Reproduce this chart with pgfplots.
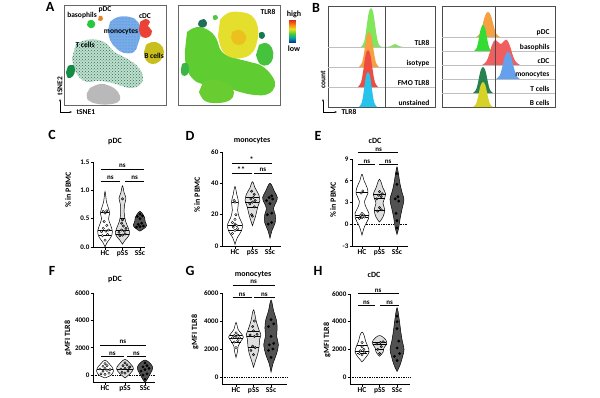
\documentclass[border=0pt]{standalone}
\usepackage{pgfplots}
\pgfplotsset{compat=1.18}
\usepackage{fontspec}
\setmainfont{Carlito}
\usetikzlibrary{arrows.meta,patterns}
\newcommand\fs[1]{\fontsize{#1}{#1}\selectfont\bfseries}
\definecolor{cTcell}{RGB}{195,222,207}
\definecolor{cTdot}{RGB}{30,120,85}
\definecolor{cMono}{RGB}{120,172,232}
\definecolor{cMdot}{RGB}{60,125,210}
\definecolor{cCDC}{RGB}{235,65,55}
\definecolor{cB}{RGB}{200,190,30}
\definecolor{cBaso}{RGB}{40,200,60}
\definecolor{cPDC}{RGB}{230,130,40}
\definecolor{cDG}{RGB}{20,140,70}
\definecolor{cGray}{RGB}{185,185,185}
\definecolor{hGreen}{RGB}{130,230,90}
\definecolor{hOrange}{RGB}{245,160,65}
\definecolor{hRed}{RGB}{240,75,65}
\definecolor{hCyan}{RGB}{40,195,235}
\definecolor{hBlue}{RGB}{100,160,235}
\definecolor{hDG}{RGB}{40,130,80}
\definecolor{hYel}{RGB}{215,210,40}
\definecolor{hSalmon}{RGB}{240,95,95}
\definecolor{hBGreen}{RGB}{50,220,50}
\pgfplotsset{
 vio/.style={scale only axis, anchor=south west, clip=false,
   axis lines=left, axis line style={-, line width=0.7pt, black},
   tick align=outside, major tick length=2.5pt, tick style={black, line width=0.7pt},
   xtick={1,2,3}, xticklabels={HC,pSS,SSc},
   xticklabel style={font=\fs{7.5}, inner sep=1pt},
   yticklabel style={font=\fs{7}, inner sep=1pt},
   /pgf/number format/assume math mode=true,
   /pgf/number format/1000 sep={},
   minor tick num=0},
 vl/.style={draw=black, line width=0.5pt, smooth, tension=0.6},
 hcv/.style={vl, fill=white},
 psv/.style={vl, fill=black!13},
 ssv/.style={vl, fill=black!68},
 hcd/.style={only marks, mark=*, mark size=1.2pt, mark options={fill=white, draw=black, line width=0.4pt}},
 psd/.style={only marks, mark=*, mark size=1.2pt, mark options={fill=black!45, draw=black, line width=0.4pt}},
 ssd/.style={only marks, mark=*, mark size=1.2pt, mark options={fill=black, draw=black}},
 med/.style={black, line width=0.5pt},
 br/.style={black, line width=0.6pt},
 zl/.style={black, densely dotted, line width=0.7pt},
 tsne/.style={scale only axis, anchor=south west, width=102pt, height=100pt,
   ymin=5, ymax=105, y dir=reverse, ticks=none, axis line style={black!60, line width=0.6pt}},
 hist/.style={scale only axis, anchor=south west, height=101pt,
   ymin=6, ymax=107, y dir=reverse, ticks=none, axis line style={black!70, line width=0.6pt}},
 blob/.style={draw=none, smooth, tension=0.7},
 hf/.style={draw=none, smooth, tension=0.6},
 lane/.style={black!25, line width=0.4pt},
}
\begin{document}
\begin{tikzpicture}[x=1pt,y=1pt]
\path[use as bounding box] (0,0) rectangle (600,397);

% ---------------- A left tSNE ----------------
\begin{axis}[tsne, at={(64pt,292pt)}, xmin=64, xmax=166]
\addplot[blob, fill=cGray] coordinates {(90,88) (100,84) (110,86) (118,92) (120,100) (112,104) (98,104) (88,100) (87,93)} -- cycle;
\addplot[blob, fill=cTcell] coordinates {(76,44) (86,40) (98,40) (107,44) (113,51) (122,56) (131,61) (139,68) (143,77) (140,85) (130,88) (119,85) (108,82) (97,81) (87,82) (79,77) (74,68) (72,58)} -- cycle;
\addplot[blob, pattern=crosshatch dots, pattern color=cTdot] coordinates {(76,44) (86,40) (98,40) (107,44) (113,51) (122,56) (131,61) (139,68) (143,77) (140,85) (130,88) (119,85) (108,82) (97,81) (87,82) (79,77) (74,68) (72,58)} -- cycle;
\addplot[blob, fill=cMono] coordinates {(110,22) (118,17) (130,17) (138,22) (141,32) (138,44) (134,52) (124,53) (116,48) (110,40) (108,30)} -- cycle;
\addplot[blob, pattern=dots, pattern color=cMdot] coordinates {(110,22) (118,17) (130,17) (138,22) (141,32) (138,44) (134,52) (124,53) (116,48) (110,40) (108,30)} -- cycle;
\addplot[blob, fill=cCDC] coordinates {(140,22) (146,19) (150,22) (148,26) (152,31) (149,37) (142,37) (139,30)} -- cycle;
\addplot[blob, fill=cB] coordinates {(146,45) (152,42) (160,44) (164,52) (160,61) (152,64) (146,60) (144,52)} -- cycle;
\addplot[blob, fill=cBaso] coordinates {(88,21) (92,20) (95,23) (94,27) (90,28) (87,25)} -- cycle;
\addplot[blob, fill=cPDC] coordinates {(99,16) (102,16) (103,19) (101,21) (98,20)} -- cycle;
\addplot[blob, fill=cDG] coordinates {(68,66) (73,65) (75,70) (73,76) (68,78) (66,72)} -- cycle;
\node[font=\fs{7.5}] at (axis cs:82,15) {basophils};
\node[font=\fs{7.5}] at (axis cs:105,10) {pDC};
\node[font=\fs{7.5}] at (axis cs:145,16) {cDC};
\node[font=\fs{7.5}] at (axis cs:121,32) {monocytes};
\node[font=\fs{7.5}] at (axis cs:85,45) {T cells};
\node[font=\fs{7.5}] at (axis cs:154,56) {B cells};
\end{axis}

% ---------------- A right tSNE ----------------
\begin{axis}[tsne, at={(178pt,292pt)}, xmin=178, xmax=280]
\addplot[blob, fill={rgb,255:red,95;green,205;blue,50}] coordinates {(187,32) (197,27) (208,30) (216,38) (222,52) (235,58) (250,62) (262,66) (272,76) (275,86) (268,94) (255,95) (240,92) (228,88) (215,85) (202,84) (192,78) (186,66) (185,50)} -- cycle;
\addplot[blob, fill={rgb,255:red,105;green,205;blue,50}] coordinates {(203,82) (215,80) (228,84) (234,92) (230,100) (218,103) (205,101) (199,92)} -- cycle;
\addplot[blob, fill={rgb,255:red,228;green,222;blue,45}] coordinates {(220,20) (228,13) (240,12) (252,16) (258,28) (257,42) (252,53) (242,58) (230,57) (222,50) (218,36)} -- cycle;
\addplot[blob, fill=orange, fill opacity=0.3] coordinates {(232,32) (240,30) (246,36) (243,44) (235,44) (231,38)} -- cycle;
\addplot[blob, fill={rgb,255:red,70;green,195;blue,60}] coordinates {(259,45) (266,43) (272,48) (273,58) (268,65) (260,64) (256,55)} -- cycle;
\addplot[blob, fill={rgb,255:red,30;green,110;blue,90}] coordinates {(199,21) (204,19) (207,23) (205,27) (200,27) (198,24)} -- cycle;
\addplot[blob, fill={rgb,255:red,80;green,200;blue,70}] coordinates {(213,16) (216,15) (218,18) (215,20) (213,19)} -- cycle;
\addplot[blob, fill={rgb,255:red,60;green,180;blue,70}] coordinates {(182,64) (187,63) (189,69) (187,75) (182,75) (181,69)} -- cycle;
\addplot[blob, fill={rgb,255:red,20;green,120;blue,80}] coordinates {(259,33) (263,32) (265,36) (262,39) (259,37)} -- cycle;
\node[font=\fs{7.5}] at (axis cs:268,12) {TLR8};
\end{axis}

% colour bar
\begin{axis}[at={(289pt,354pt)}, anchor=south west, scale only axis, width=6pt, height=23pt, hide axis,
  xmin=0, xmax=1, ymin=0, ymax=5, zmin=-1, zmax=1, view={0}{90},
  colormap={tlrmap}{rgb255=(20,30,140) rgb255=(0,160,170) rgb255=(70,200,60) rgb255=(230,225,30) rgb255=(245,140,20) rgb255=(225,40,30)}]
\addplot3[surf, shader=interp, mesh/rows=6, mesh/cols=2, point meta=y] coordinates {(0,0,0) (1,0,0) (0,1,0) (1,1,0) (0,2,0) (1,2,0) (0,3,0) (1,3,0) (0,4,0) (1,4,0) (0,5,0) (1,5,0)};
\end{axis}
\node[font=\fs{8}] at (294,383) {high};
\node[font=\fs{8}] at (294,348) {low};

% tSNE axes arrows
\draw[line width=0.6pt, -{Stealth[length=2.5pt]}] (60,285) -- (60,298);
\draw[line width=0.6pt, -{Stealth[length=2.5pt]}] (60,285) -- (72,285);
\node[font=\fs{7.5}, rotate=90] at (60,311) {tSNE2};
\node[font=\fs{7.5}, anchor=west] at (73,285) {tSNE1};

% ---------------- B left histograms ----------------
\begin{axis}[hist, at={(328pt,290pt)}, width=107pt, xmin=328, xmax=435]
\addplot[lane] coordinates {(328,47) (435,47)};
\addplot[lane] coordinates {(328,67) (435,67)};
\addplot[lane] coordinates {(328,87) (435,87)};
\addplot[hf, fill=hGreen] coordinates {(361,47) (364,42.3) (366,31.4) (368.5,14) (371,8) (373.5,14) (376,31.4) (378,42.3) (381,46.6) (387,47) (391,46) (395,44) (399,46) (403,47)} -- cycle;
\addplot[hf, fill=hOrange] coordinates {(359,67) (362,62.8) (364,53) (366.5,37.2) (369,32) (371.5,37.2) (374,53) (376,62.8) (379,67)} -- cycle;
\addplot[hf, fill=hRed] coordinates {(358,87) (361,82.6) (363,72.2) (365.5,55.6) (368,50) (370.5,55.6) (373,72.2) (375,82.6) (378,87)} -- cycle;
\addplot[hf, fill=hCyan] coordinates {(359,107) (361.7,102.8) (363.5,93) (365.75,77.2) (368,72) (370.25,77.2) (372.5,93) (374.3,102.8) (377,107)} -- cycle;
\addplot[black!70, line width=0.5pt] coordinates {(385,6) (385,107)};
\node[font=\fs{7.5}, anchor=east] at (axis cs:433,43) {TLR8};
\node[font=\fs{7.5}, anchor=east] at (axis cs:433,63) {isotype};
\node[font=\fs{7.5}, anchor=east] at (axis cs:433,83) {FMO TLR8};
\node[font=\fs{7.5}, anchor=east] at (axis cs:433,103) {unstained};
\end{axis}

% ---------------- B right histograms ----------------
\begin{axis}[hist, at={(442pt,290pt)}, width=113pt, xmin=442, xmax=555]
\addplot[lane] coordinates {(442,37) (555,37)};
\addplot[lane] coordinates {(442,51) (555,51)};
\addplot[lane] coordinates {(442,65) (555,65)};
\addplot[lane] coordinates {(442,79) (555,79)};
\addplot[lane] coordinates {(442,93) (555,93)};
\addplot[hf, fill=hOrange] coordinates {(476,37) (479.6,34) (482,27) (485,15.75) (488,12) (491,15.75) (494,27) (496.4,34) (500,37)} -- cycle;
\addplot[hf, fill=hBGreen] coordinates {(474,51) (476.7,47.9) (478.5,40.6) (480.75,28.9) (483,25) (485.25,28.9) (487.5,40.6) (489.3,47.9) (492,51)} -- cycle;
\addplot[hf, fill=hSalmon] coordinates {(482,65) (486,62) (489,55) (492,45) (495,40) (498,42) (501,44) (504,41) (507,40) (510,46) (513,56) (516,62) (520,65)} -- cycle;
\addplot[hf, fill=hBlue] coordinates {(496,79) (499.6,75.8) (502,68.2) (505,56) (508,52) (511,56) (514,68.2) (516.4,75.8) (520,79)} -- cycle;
\addplot[hf, fill=hDG] coordinates {(473,93) (476,89.9) (478,82.6) (480.5,70.9) (483,67) (485.5,70.9) (488,82.6) (490,89.9) (493,93)} -- cycle;
\addplot[hf, fill=hYel] coordinates {(473,107) (476,104) (478,97) (480.5,85.75) (483,82) (485.5,85.75) (488,97) (490,104) (493,107)} -- cycle;
\addplot[black!70, line width=0.5pt] coordinates {(495,6) (495,107)};
\node[font=\fs{7.5}, anchor=east] at (axis cs:553,33) {pDC};
\node[font=\fs{7.5}, anchor=east] at (axis cs:553,47) {basophils};
\node[font=\fs{7.5}, anchor=east] at (axis cs:553,61) {cDC};
\node[font=\fs{7.5}, anchor=east] at (axis cs:553,75) {monocytes};
\node[font=\fs{7.5}, anchor=east] at (axis cs:553,89) {T cells};
\node[font=\fs{7.5}, anchor=east] at (axis cs:553,103) {B cells};
\end{axis}
\draw[line width=0.6pt, -{Stealth[length=2.5pt]}] (323,285) -- (323,298);
\draw[line width=0.6pt, -{Stealth[length=2.5pt]}] (323,285) -- (337,285);
\node[font=\fs{7.5}, rotate=90] at (323,317) {count};
\node[font=\fs{7.5}, anchor=west] at (338,285) {TLR8};

% ---------------- C ----------------
\begin{axis}[vio, at={(93pt,150pt)}, width=52pt, height=85pt, xmin=0.31, xmax=3.29, ymin=0, ymax=1.5,
  ytick={0,0.5,1,1.5}, yticklabel style={/pgf/number format/fixed, /pgf/number format/fixed zerofill, /pgf/number format/precision=1}]
\addplot[hcv] coordinates {(1,0) (1.12,0.08) (1.35,0.18) (1.42,0.28) (1.30,0.4) (1.20,0.5) (1.27,0.6) (1.20,0.68) (1.08,0.8) (1,0.98) (0.92,0.8) (0.80,0.68) (0.73,0.6) (0.80,0.5) (0.70,0.4) (0.58,0.28) (0.65,0.18) (0.88,0.08) (1,0)} -- cycle;
\addplot[psv] coordinates {(2,0.05) (2.15,0.12) (2.40,0.22) (2.35,0.32) (2.18,0.45) (2.10,0.6) (2.12,0.75) (2.20,0.86) (2.10,0.95) (2,1.08) (1.90,0.95) (1.80,0.86) (1.88,0.75) (1.90,0.6) (1.82,0.45) (1.65,0.32) (1.60,0.22) (1.85,0.12) (2,0.05)} -- cycle;
\addplot[ssv] coordinates {(3,0.28) (3.25,0.33) (3.38,0.38) (3.30,0.45) (3.27,0.52) (3.18,0.57) (3,0.63) (2.82,0.57) (2.73,0.52) (2.70,0.45) (2.62,0.38) (2.75,0.33) (3,0.28)} -- cycle;
\addplot[med] coordinates {(0.61,0.3) (1.39,0.3)};
\addplot[med] coordinates {(0.64,0.2) (1.36,0.2)};
\addplot[med] coordinates {(0.75,0.62) (1.25,0.62)};
\addplot[med] coordinates {(1.63,0.3) (2.37,0.3)};
\addplot[med] coordinates {(1.6,0.22) (2.4,0.22)};
\addplot[med] coordinates {(1.84,0.5) (2.16,0.5)};
\addplot[hcd] coordinates {(1.0,0.12) (0.85,0.2) (1.15,0.22) (0.8,0.27) (1.05,0.28) (1.2,0.3) (0.9,0.33) (1.1,0.38) (0.95,0.45) (1.0,0.6) (0.9,0.63) (1.1,0.64)};
\addplot[psd] coordinates {(1.85,0.2) (2.0,0.21) (2.15,0.23) (1.8,0.26) (2.1,0.28) (1.95,0.3) (2.2,0.33) (2.05,0.37) (1.95,0.42) (2.0,0.48) (2.0,0.85)};
\addplot[ssd] coordinates {(2.8,0.35) (3.0,0.36) (3.2,0.37) (2.9,0.4) (3.1,0.42) (3.0,0.5) (2.85,0.54) (3.15,0.55) (3.0,0.58)};
\addplot[br] coordinates {(0.75,1.376) (3.25,1.376)};
\addplot[br] coordinates {(0.75,1.165) (1.85,1.165)};
\addplot[br] coordinates {(2.15,1.165) (3.25,1.165)};
\node[font=\fs{7}, above, inner sep=0.8pt] at (axis cs:2,1.376) {ns};
\node[font=\fs{7}, above, inner sep=0.8pt] at (axis cs:1.3,1.165) {ns};
\node[font=\fs{7}, above, inner sep=0.8pt] at (axis cs:2.7,1.165) {ns};
\end{axis}
\node[font=\fs{8}] at (115,255) {pDC};
\node[font=\fs{8}, rotate=90] at (68,207) {\% in PBMC};

% ---------------- D ----------------
\begin{axis}[vio, at={(222pt,151pt)}, width=59pt, height=94pt, xmin=0.257, xmax=3.63, ymin=0, ymax=60, ytick={0,20,40,60}]
\addplot[hcv] coordinates {(1,1) (1.12,5) (1.38,10) (1.42,14) (1.25,18) (1.15,23) (1.20,28) (1.10,33) (1,38) (0.90,33) (0.80,28) (0.85,23) (0.75,18) (0.58,14) (0.62,10) (0.88,5) (1,1)} -- cycle;
\addplot[psv] coordinates {(2,13) (2.12,17) (2.22,21) (2.30,25) (2.42,29) (2.35,33) (2.15,37) (2,41) (1.85,37) (1.65,33) (1.58,29) (1.70,25) (1.78,21) (1.88,17) (2,13)} -- cycle;
\addplot[ssv] coordinates {(3,5) (3.12,10) (3.30,15) (3.30,20) (3.20,24) (3.35,28) (3.42,31) (3.25,35) (3,40) (2.75,35) (2.58,31) (2.65,28) (2.80,24) (2.70,20) (2.70,15) (2.88,10) (3,5)} -- cycle;
\addplot[med] coordinates {(0.58,13) (1.42,13)};
\addplot[med] coordinates {(0.62,10) (1.38,10)};
\addplot[med] coordinates {(0.8,28) (1.2,28)};
\addplot[med] coordinates {(1.6,28) (2.4,28)};
\addplot[med] coordinates {(1.7,25) (2.3,25)};
\addplot[med] coordinates {(1.62,31) (2.38,31)};
\addplot[hcd] coordinates {(0.85,8) (1.0,10) (1.15,11) (0.9,12) (1.1,13) (1.0,14) (0.85,15) (1.0,17) (1.05,20) (1.0,28) (0.95,29)};
\addplot[psd] coordinates {(2.0,19) (1.95,20) (2.1,25) (1.85,27) (2.0,28) (2.15,29) (1.9,30) (2.05,31) (2.1,33) (1.95,35)};
\addplot[ssd] coordinates {(2.9,14) (3.1,15) (2.85,20) (3.1,21) (3.0,27) (2.8,29) (3.15,30) (2.95,31) (3.1,32)};
\addplot[br] coordinates {(0.8,53) (3.1,53)};
\addplot[br] coordinates {(0.8,46.6) (1.95,46.6)};
\addplot[br] coordinates {(2.1,46.6) (3.1,46.6)};
\node[font=\fs{8}, above, inner sep=0.3pt] at (axis cs:1.95,53) {*};
\node[font=\fs{8}, above, inner sep=0.3pt] at (axis cs:1.35,46.6) {**};
\node[font=\fs{7}, above, inner sep=0.8pt] at (axis cs:2.6,46.6) {ns};
\end{axis}
\node[font=\fs{8}] at (252,256) {monocytes};
\node[font=\fs{8}, rotate=90] at (197,202) {\% in PBMC};

% ---------------- E ----------------
\begin{axis}[vio, at={(352pt,151pt)}, width=56pt, height=87pt, xmin=0.43, xmax=3.63, ymin=-3, ymax=9, ytick={-3,0,3,6,9}]
\addplot[zl] coordinates {(0.43,0) (3.63,0)};
\addplot[hcv] coordinates {(1,-1.5) (1.15,-0.3) (1.38,0.8) (1.40,1.5) (1.22,2.4) (1.15,3.2) (1.33,4.2) (1.30,5.0) (1.12,6) (1,6.9) (0.88,6) (0.70,5.0) (0.67,4.2) (0.85,3.2) (0.78,2.4) (0.60,1.5) (0.62,0.8) (0.85,-0.3) (1,-1.5)} -- cycle;
\addplot[psv] coordinates {(2,0.3) (2.20,1) (2.30,2) (2.20,2.9) (2.30,3.6) (2.35,4.2) (2.20,5) (2,6.2) (1.80,5) (1.65,4.2) (1.70,3.6) (1.80,2.9) (1.70,2) (1.80,1) (2,0.3)} -- cycle;
\addplot[ssv] coordinates {(3,-1.4) (3.10,-0.5) (3.18,0.8) (3.30,2.2) (3.40,3.4) (3.30,4.3) (3.18,5.5) (3.08,7) (3,7.9) (2.92,7) (2.82,5.5) (2.70,4.3) (2.60,3.4) (2.70,2.2) (2.82,0.8) (2.90,-0.5) (3,-1.4)} -- cycle;
\addplot[med] coordinates {(0.61,1.3) (1.39,1.3)};
\addplot[med] coordinates {(0.64,0.9) (1.36,0.9)};
\addplot[med] coordinates {(0.68,4.4) (1.32,4.4)};
\addplot[med] coordinates {(1.7,2) (2.3,2)};
\addplot[med] coordinates {(1.7,3.6) (2.3,3.6)};
\addplot[med] coordinates {(1.65,4.2) (2.35,4.2)};
\addplot[hcd] coordinates {(0.85,0.8) (1.0,0.9) (1.15,1.0) (0.9,1.2) (1.1,1.3) (1.0,1.5) (0.95,4.3) (1.05,4.6)};
\addplot[psd] coordinates {(1.9,1.8) (2.1,2.0) (2.0,2.3) (1.85,3.5) (2.1,3.8) (1.95,4.0) (2.15,4.2) (2.0,4.5)};
\addplot[ssd] coordinates {(3.0,-0.5) (3.0,0.5) (2.95,1.5) (3.1,3.2) (2.9,3.5) (3.05,3.8) (3.0,5.5) (3.0,7.0)};
\addplot[br] coordinates {(0.8,9.95) (3.05,9.95)};
\addplot[br] coordinates {(0.8,8.3) (1.75,8.3)};
\addplot[br] coordinates {(1.95,8.3) (3.05,8.3)};
\node[font=\fs{7}, above, inner sep=0.8pt] at (axis cs:1.95,9.95) {ns};
\node[font=\fs{7}, above, inner sep=0.8pt] at (axis cs:1.28,8.3) {ns};
\node[font=\fs{7}, above, inner sep=0.8pt] at (axis cs:2.5,8.3) {ns};
\end{axis}
\node[font=\fs{8}] at (375,256) {cDC};
\node[font=\fs{8}, rotate=90] at (333,197) {\% in PBMC};

% ---------------- F ----------------
\begin{axis}[vio, at={(93pt,15pt)}, width=62pt, height=89pt, xmin=0.4, xmax=3.5, ymin=-500, ymax=6000, ytick={0,2000,4000,6000}]
\addplot[zl] coordinates {(0.4,0) (3.5,0)};
\addplot[hcv] coordinates {(1,-200) (1.30,0) (1.42,300) (1.35,600) (1.20,850) (1,1100) (0.80,850) (0.65,600) (0.58,300) (0.70,0) (1,-200)} -- cycle;
\addplot[psv] coordinates {(2,-200) (2.25,100) (2.42,450) (2.35,700) (2.20,950) (2,1150) (1.80,950) (1.65,700) (1.58,450) (1.75,100) (2,-200)} -- cycle;
\addplot[ssv] coordinates {(3,-550) (3.15,-200) (3.30,200) (3.38,500) (3.30,800) (3,1100) (2.70,800) (2.62,500) (2.70,200) (2.85,-200) (3,-550)} -- cycle;
\addplot[med] coordinates {(0.59,400) (1.41,400)};
\addplot[med] coordinates {(1.58,450) (2.42,450)};
\addplot[hcd] coordinates {(0.8,100) (1.0,50) (1.2,150) (0.9,300) (1.1,350) (1.25,400) (0.75,450) (1.0,500) (0.9,650) (1.1,700) (1.0,850)};
\addplot[psd] coordinates {(1.85,200) (2.0,150) (2.15,300) (1.8,450) (2.0,500) (2.2,550) (1.9,700) (2.1,750) (2.0,900) (2.25,600)};
\addplot[ssd] coordinates {(3.0,-300) (2.9,0) (3.1,100) (2.8,300) (3.0,400) (3.2,500) (2.9,600) (3.1,700) (3.0,900)};
\addplot[br] coordinates {(0.75,2200) (3.05,2200)};
\addplot[br] coordinates {(0.8,1390) (1.95,1390)};
\addplot[br] coordinates {(2.1,1390) (3.05,1390)};
\node[font=\fs{7}, above, inner sep=0.8pt] at (axis cs:1.9,2200) {ns};
\node[font=\fs{7}, above, inner sep=0.8pt] at (axis cs:1.37,1390) {ns};
\node[font=\fs{7}, above, inner sep=0.8pt] at (axis cs:2.57,1390) {ns};
\end{axis}
\node[font=\fs{8}] at (115,117) {pDC};
\node[font=\fs{8}, rotate=90] at (68,59) {gMFI TLR8};

% ---------------- G ----------------
\begin{axis}[vio, at={(222pt,13pt)}, width=65pt, height=91pt, xmin=0.2, xmax=3.91, ymin=-500, ymax=6000, ytick={0,2000,4000,6000}]
\addplot[zl] coordinates {(0.2,0) (3.91,0)};
\addplot[hcv] coordinates {(1,1400) (1.08,1800) (1.12,2200) (1.30,2600) (1.42,2850) (1.30,3100) (1.12,3400) (1,3900) (0.88,3400) (0.70,3100) (0.58,2850) (0.70,2600) (0.88,2200) (0.92,1800) (1,1400)} -- cycle;
\addplot[psv] coordinates {(2,700) (2.12,1200) (2.25,1700) (2.32,2200) (2.35,2700) (2.42,3000) (2.30,3400) (2.15,4000) (2,4800) (1.85,4000) (1.70,3400) (1.58,3000) (1.65,2700) (1.68,2200) (1.75,1700) (1.88,1200) (2,700)} -- cycle;
\addplot[ssv] coordinates {(3,350) (3.12,1000) (3.30,1600) (3.42,2300) (3.32,2900) (3.35,3500) (3.30,4100) (3.15,4700) (3,5500) (2.85,4700) (2.70,4100) (2.65,3500) (2.68,2900) (2.58,2300) (2.70,1600) (2.88,1000) (3,350)} -- cycle;
\addplot[med] coordinates {(0.6,2800) (1.4,2800)};
\addplot[med] coordinates {(0.72,2500) (1.28,2500)};
\addplot[med] coordinates {(0.68,3000) (1.32,3000)};
\addplot[med] coordinates {(1.62,2900) (2.38,2900)};
\addplot[med] coordinates {(1.68,2100) (2.32,2100)};
\addplot[med] coordinates {(1.68,3300) (2.32,3300)};
\addplot[hcd] coordinates {(1.0,2100) (0.9,2500) (1.1,2600) (0.8,2800) (1.0,2850) (1.2,2800) (0.9,2950) (1.1,3000) (1.0,3150)};
\addplot[psd] coordinates {(2.0,1600) (1.85,1900) (2.1,2100) (1.95,2200) (2.05,2900) (1.8,3000) (2.2,3050) (2.0,3300) (1.95,3600) (2.05,4000)};
\addplot[ssd] coordinates {(3.0,1400) (2.85,1900) (3.1,2000) (2.9,2300) (3.15,2400) (3.0,2900) (2.85,3600) (3.15,3800) (3.0,4100)};
\addplot[br] coordinates {(0.8,6570) (3.2,6570)};
\addplot[br] coordinates {(0.8,5700) (1.9,5700)};
\addplot[br] coordinates {(2.05,5700) (3.2,5700)};
\node[font=\fs{7}, above, inner sep=0.8pt] at (axis cs:2,6570) {ns};
\node[font=\fs{7}, above, inner sep=0.8pt] at (axis cs:1.35,5700) {ns};
\node[font=\fs{7}, above, inner sep=0.8pt] at (axis cs:2.62,5700) {ns};
\end{axis}
\node[font=\fs{8}] at (253,122) {monocytes};
\node[font=\fs{8}, rotate=90] at (195,65) {gMFI TLR8};

% ---------------- H ----------------
\begin{axis}[vio, at={(350pt,13pt)}, width=60pt, height=90pt, xmin=0.31, xmax=3.74, ymin=-500, ymax=6000, ytick={0,2000,4000,6000}]
\addplot[zl] coordinates {(0.31,0) (3.74,0)};
\addplot[hcv] coordinates {(1,1100) (1.20,1400) (1.40,1800) (1.33,2200) (1.20,2600) (1.12,3000) (1,3250) (0.88,3000) (0.80,2600) (0.67,2200) (0.60,1800) (0.80,1400) (1,1100)} -- cycle;
\addplot[psv] coordinates {(2,1500) (2.20,1800) (2.25,2100) (2.40,2400) (2.35,2700) (2,3000) (1.65,2700) (1.60,2400) (1.75,2100) (1.80,1800) (2,1500)} -- cycle;
\addplot[ssv] coordinates {(3,400) (3.18,900) (3.32,1500) (3.40,2000) (3.30,2600) (3.20,3400) (3.12,4200) (3,5000) (2.88,4200) (2.80,3400) (2.70,2600) (2.60,2000) (2.68,1500) (2.82,900) (3,400)} -- cycle;
\addplot[med] coordinates {(0.62,1900) (1.38,1900)};
\addplot[med] coordinates {(0.7,1700) (1.3,1700)};
\addplot[med] coordinates {(0.7,2300) (1.3,2300)};
\addplot[med] coordinates {(1.6,2400) (2.4,2400)};
\addplot[med] coordinates {(1.76,2000) (2.24,2000)};
\addplot[med] coordinates {(1.62,2550) (2.38,2550)};
\addplot[hcd] coordinates {(1.0,1600) (0.85,1700) (1.15,1800) (0.9,1900) (1.1,2000) (1.0,2200) (1.0,2500)};
\addplot[psd] coordinates {(2.0,1700) (1.9,2000) (2.1,2200) (1.85,2400) (2.05,2500) (2.2,2550)};
\addplot[ssd] coordinates {(3.0,1200) (2.85,1500) (3.15,1700) (3.0,2100) (3.1,2600) (3.0,3500) (3.0,4000) (3.0,4400)};
\addplot[br] coordinates {(0.75,6060) (3.1,6060)};
\addplot[br] coordinates {(0.75,5200) (1.75,5200)};
\addplot[br] coordinates {(2.05,5200) (3.1,5200)};
\node[font=\fs{7}, above, inner sep=0.8pt] at (axis cs:1.92,6060) {ns};
\node[font=\fs{7}, above, inner sep=0.8pt] at (axis cs:1.25,5200) {ns};
\node[font=\fs{7}, above, inner sep=0.8pt] at (axis cs:2.57,5200) {ns};
\end{axis}
\node[font=\fs{8}] at (374,122) {cDC};
\node[font=\fs{8}, rotate=90] at (327,57) {gMFI TLR8};

% panel letters
\node[font=\fs{14}] at (50,390) {A};
\node[font=\fs{14}] at (316,389) {B};
\node[font=\fs{14}] at (52,262) {C};
\node[font=\fs{14}] at (190,261) {D};
\node[font=\fs{14}] at (318,261) {E};
\node[font=\fs{14}] at (52,126) {F};
\node[font=\fs{14}] at (190,126) {G};
\node[font=\fs{14}] at (318,126) {H};
\end{tikzpicture}
\end{document}
